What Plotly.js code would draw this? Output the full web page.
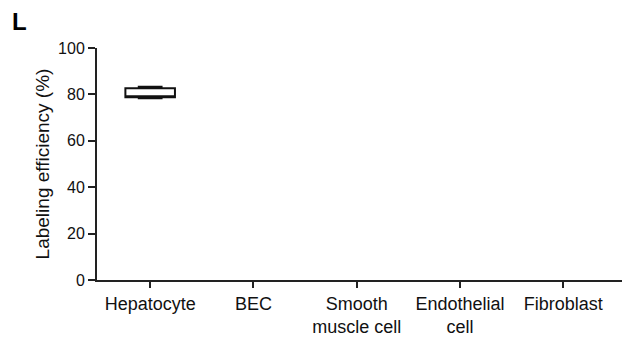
<!DOCTYPE html>
<html>
<head>
<meta charset="utf-8">
<script src="https://cdn.plot.ly/plotly-3.0.1.min.js"></script>
<style>html,body{margin:0;padding:0;background:#fff;}#chart{width:628px;height:337px;}</style>
</head>
<body>
<div id="chart"></div>
<script>
var categories = ["Hepatocyte", "BEC", "Smooth<br>muscle cell", "Endothelial<br>cell", "Fibroblast"];
var boxCategory = ["Hepatocyte"];
var lowerFence = [78.3];
var q1Values = [78.8];
var medianValues = [79.0];
var q3Values = [82.7];
var upperFence = [83.3];
var yTicks = [0, 20, 40, 60, 80, 100];

var trace = {
  type: "box",
  x: boxCategory,
  lowerfence: lowerFence,
  q1: q1Values,
  median: medianValues,
  q3: q3Values,
  upperfence: upperFence,
  width: 0.48,
  whiskerwidth: 0.5,
  fillcolor: "#ffffff",
  line: {color: "#111111", width: 2},
  hoverinfo: "skip",
  showlegend: false
};

var fam = "Liberation Sans, Arial, sans-serif";
var xFont = {family: fam, size: 18, color: "#111111"};
var yFont = {family: fam, size: 16, color: "#111111"};
var titleFont = {family: fam, size: 19, color: "#111111"};

var layout = {
  width: 628, height: 337,
  margin: {l: 97, r: 6, t: 48, b: 57},
  paper_bgcolor: "#ffffff", plot_bgcolor: "#ffffff",
  font: xFont,
  showlegend: false,
  xaxis: {
    type: "category",
    categoryorder: "array",
    categoryarray: categories,
    tickvals: categories,
    ticktext: categories,
    range: [-0.515, 4.57],
    showline: true, linecolor: "#222222", linewidth: 2,
    ticks: "outside", ticklen: 6, tickwidth: 2, tickcolor: "#222222",
    showgrid: false, zeroline: false,
    tickfont: xFont
  },
  yaxis: {
    range: [0, 100],
    tickvals: yTicks,
    showline: true, linecolor: "#222222", linewidth: 2,
    ticks: "outside", ticklen: 7, tickwidth: 2, tickcolor: "#222222",
    showgrid: false, zeroline: false,
    tickfont: yFont,
    title: {text: "Labeling efficiency (%)", font: titleFont, standoff: 3}
  },
  annotations: [{
    text: "<b>L</b>", xref: "paper", yref: "paper",
    x: 0, y: 1, xanchor: "left", yanchor: "top",
    xshift: -87, yshift: 42, showarrow: false,
    font: {family: fam, size: 24, color: "#000000"}
  }]
};

Plotly.newPlot("chart", [trace], layout, {staticPlot: true, displayModeBar: false});
</script>
</body>
</html>
